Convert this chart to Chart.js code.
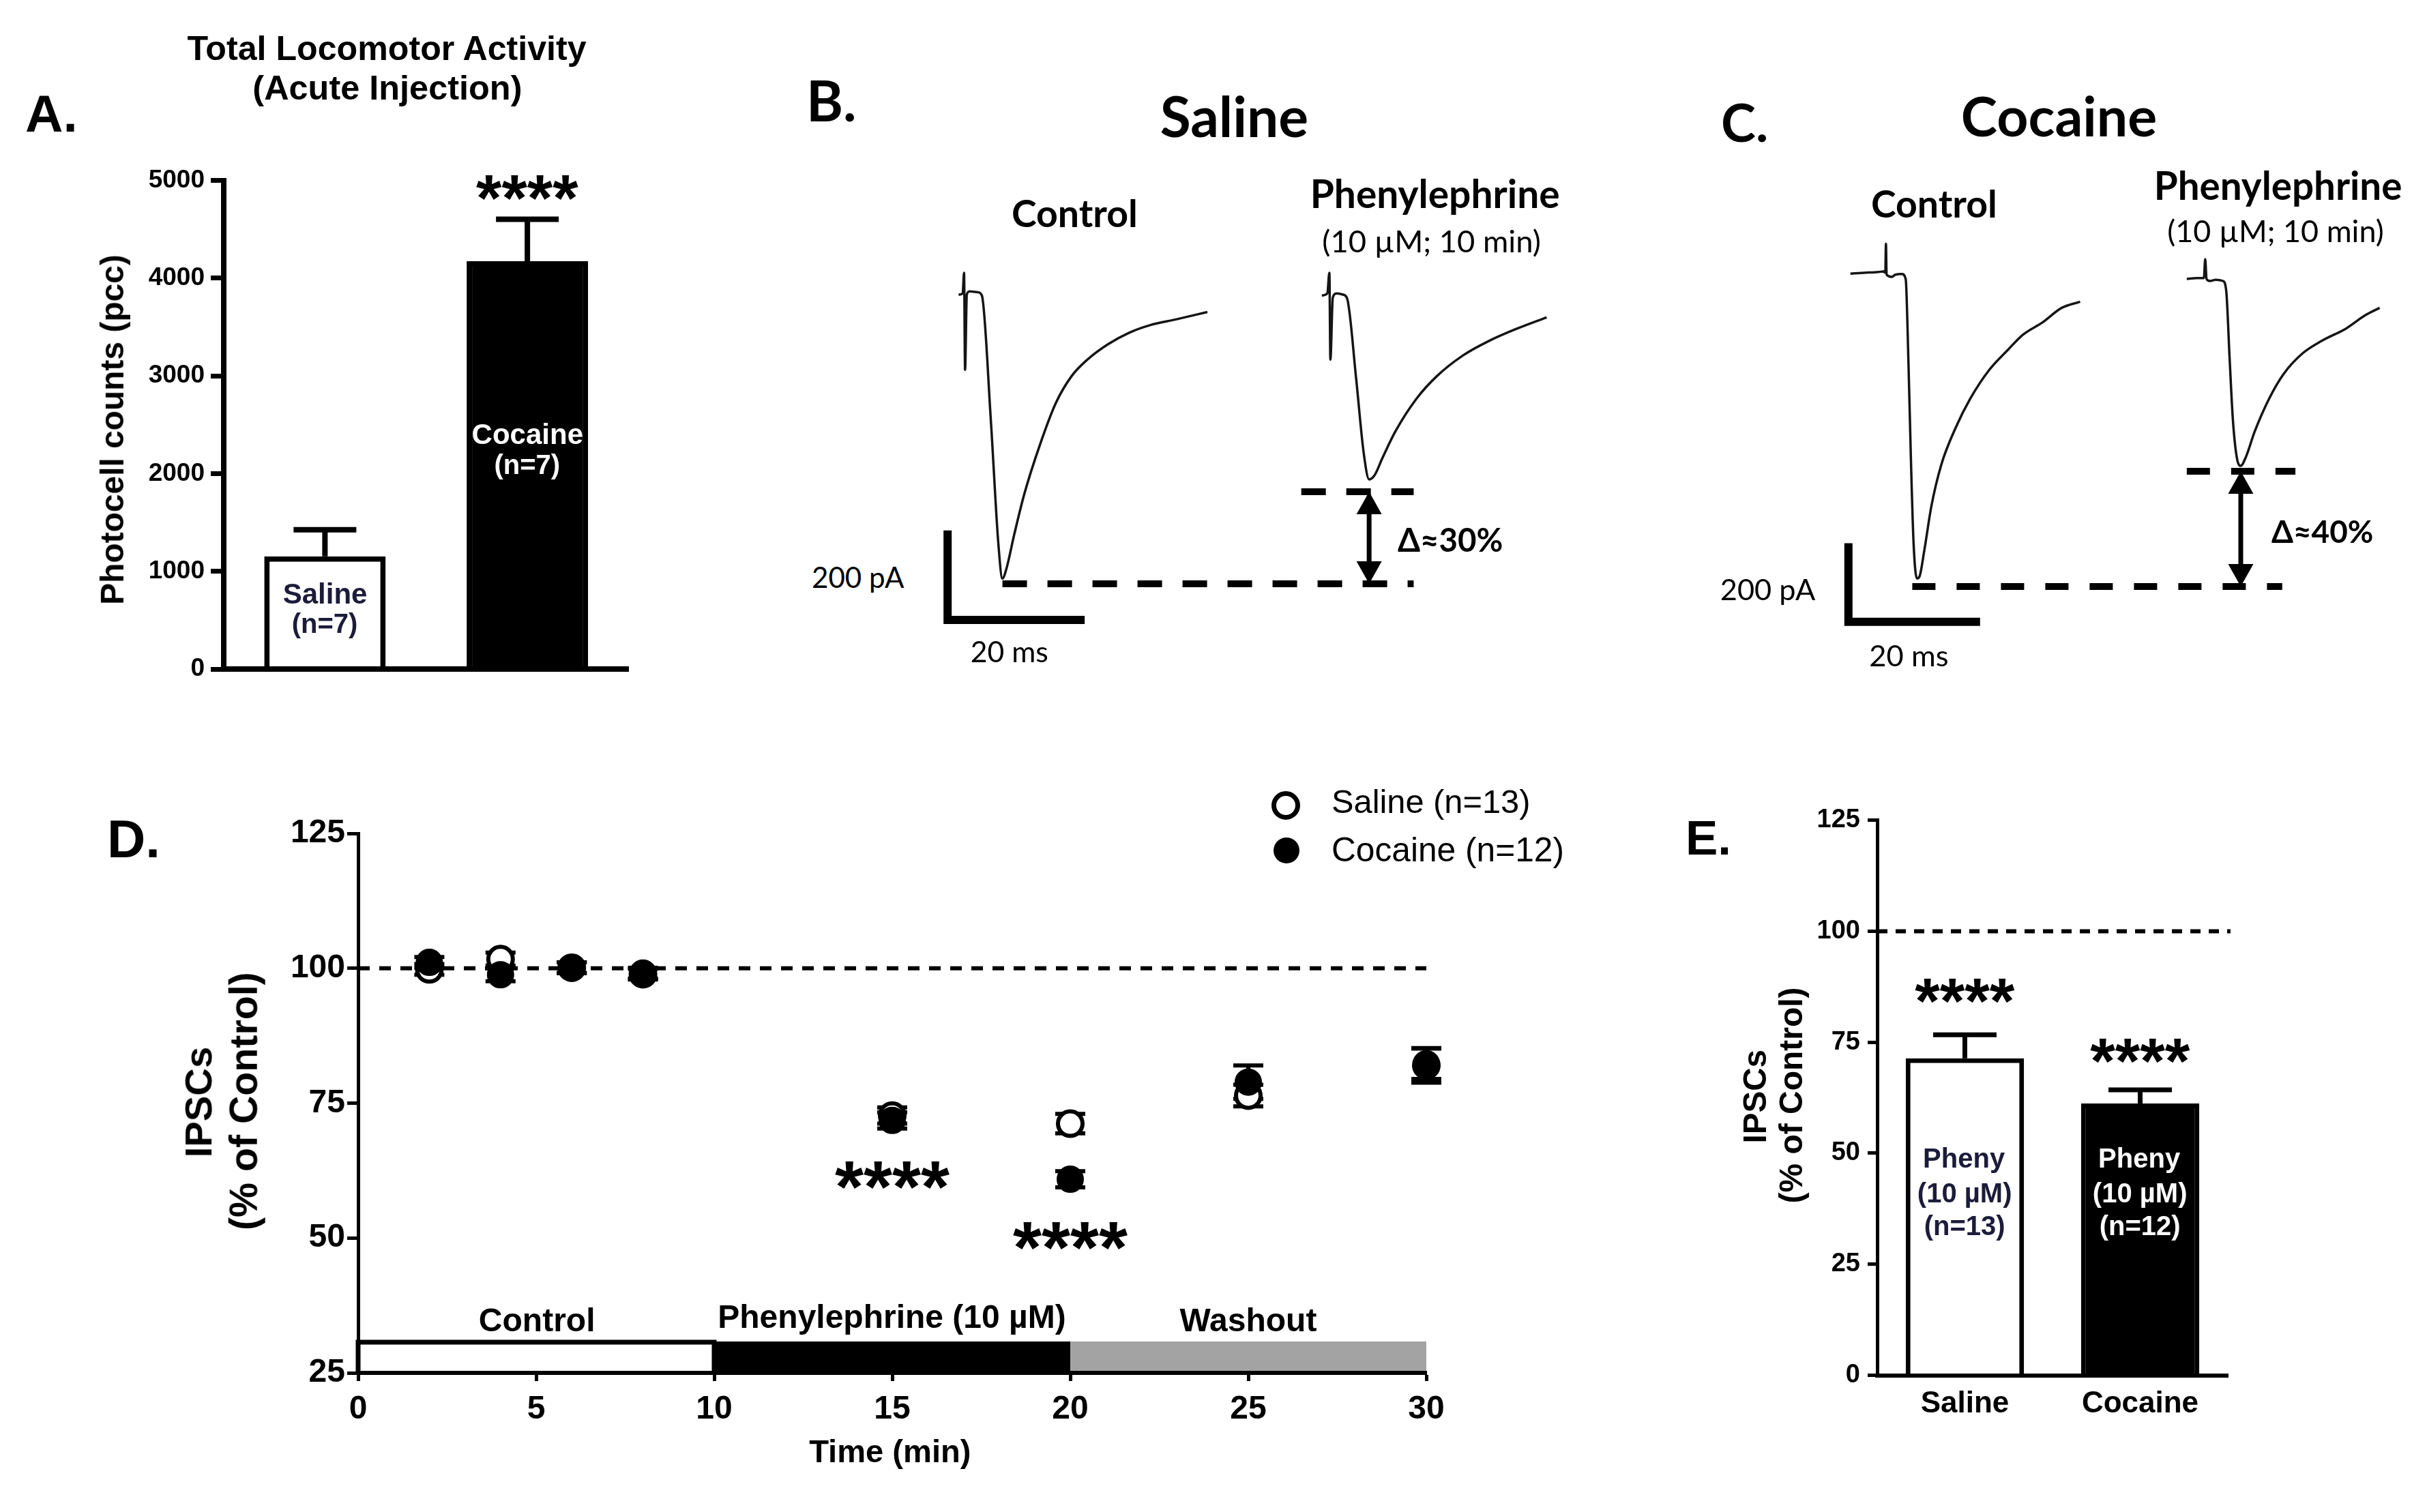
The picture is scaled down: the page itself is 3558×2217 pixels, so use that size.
<!DOCTYPE html>
<html><head><meta charset="utf-8">
<script src="https://cdn.jsdelivr.net/npm/chart.js@4.4.1/dist/chart.umd.min.js"></script>
<style>
html,body{margin:0;padding:0;background:#fff;}
#page{position:relative;width:3558px;height:2217px;overflow:hidden;background:#fff;}
.box{position:absolute;}
.t{position:absolute;white-space:nowrap;color:#000;margin:0;padding:0;}
</style></head><body><div id="page"></div>
<script>
// ================= DATA =================
// Panel A: total locomotor activity (photocell counts)
const locoGroups = ['Saline', 'Cocaine'];
const locoMean = [1154, 4173];
const locoSem = [271, 430];
const locoN = ['(n=7)', '(n=7)'];

// Panel B: representative IPSC traces, saline group (ms, pA)
const salineControlTrace = [[5.6,-2.6],[6.2,0.2],[6.4,46.2],[6.55,-170.6],[6.8,-2.6],[7.2,4.7],[8.4,2.9],[9.0,-4.5],[10.3,-281],[11.4,-558],[12.0,-636.5],[12.6,-613.5],[13.7,-539.7],[15.2,-447.4],[17.5,-336.7],[19.8,-244.4],[22.1,-184.4],[24.4,-147.6],[27.4,-113.3],[30.5,-87.6],[33.5,-70.9],[37.3,-58.0],[41.9,-41.4]];
const salinePhenyTrace = [[58.6,-4.5],[59.4,0.2],[59.7,46.2],[59.85,-147.6],[60.2,-9.1],[60.8,0.2],[61.7,-2.6],[62.3,-11.8],[63.6,-189.1],[64.7,-355.2],[65.5,-415.2],[66.3,-405.9],[67.4,-368.9],[69.3,-308.9],[72.4,-235.2],[75.4,-184.4],[79.2,-138.3],[83.0,-105.9],[86.8,-80.2],[91.4,-53.3]];
const salineScaleBar = [[4,-529],[4,-729],[24,-729]];          // 200 pA / 20 ms
const salineDashLevels = [-648.5, -442.7];                      // control peak, phenylephrine peak
const salineDashStart = [12.0, 55.6];
const salineDashEnd = [72.0, 72.0];
const salineArrowAt = 65.5;

// Panel C: representative IPSC traces, cocaine group (ms, pA)
const cocaineControlTrace = [[6.6,0.5],[8.7,2.6],[10.9,4.8],[11.6,5.9],[11.9,3.0],[12.0,76.2],[12.1,-2.6],[12.9,-7.8],[13.4,-2.6],[14.4,-0.5],[15.0,-13.1],[15.4,-212.6],[15.8,-475.2],[16.2,-685.2],[16.7,-774.3],[17.1,-769.1],[17.8,-706.0],[18.9,-590.7],[20.4,-485.7],[22.6,-391.0],[24.8,-317.6],[27.7,-244.1],[30.6,-192.0],[32.8,-155.0],[35.8,-123.3],[38.7,-86.6],[41.5,-70.9]];
const cocainePhenyTrace = [[57.7,-13.1],[59.2,-11.0],[60.3,-11.0],[60.5,37.2],[60.7,-13.0],[61.2,-18.3],[62.1,-15.2],[63.2,-18.3],[63.7,-44.7],[64.2,-212.6],[64.7,-370.2],[65.4,-475.2],[65.9,-487.8],[66.7,-464.7],[68.0,-401.6],[70.2,-317.6],[72.4,-254.7],[75.3,-202.1],[78.2,-170.5],[81.9,-139.1],[84.8,-105.5],[87.0,-86.6]];
const cocaineScaleBar = [[6.3,-684.5],[6.3,-884.5],[26.3,-884.5]];
const cocaineDashLevels = [-794.8, -501.7];
const cocaineDashStart = [16.0, 57.7];
const cocaineDashEnd = [72.2, 74.2];
const cocaineArrowAt = 65.9;

// Panel D: IPSC time course (% of control)
const timeMin = [2, 4, 6, 8, 15, 20, 25, 30];
const ipscSaline = [99.8, 101.7, 100.1, 98.9, 72.7, 71.2, 76.4, 82.0];
const ipscSalineSem = [1.0, 1.2, 1.0, 1.0, 1.5, 1.8, 2.0, 3.2];
const ipscCocaine = [101.1, 98.8, 100.1, 99.1, 71.8, 60.9, 78.9, 82.3];
const ipscCocaineSem = [1.0, 1.2, 1.0, 1.0, 1.5, 1.5, 3.1, 2.8];
const phaseNames = ['Control', 'Phenylephrine (10 µM)', 'Washout'];
const phaseStart = [0, 10, 20];
const phaseEnd = [10, 20, 30];
const starTimes = [15, 20];
const starLevels = [61.6, 50.3];
const controlLevel = 100;

// Panel E: phenylephrine effect (% of control)
const pheGroups = ['Saline', 'Cocaine'];
const pheMean = [71.4, 61.2];
const pheSem = [5.3, 3.1];
const pheN = ['(n=13)', '(n=12)'];

// ================= HELPERS =================
const ARIAL = "'Liberation Sans', Arial, Helvetica, sans-serif";
const CAL = "Lato, 'Liberation Sans', sans-serif";
const DARK = '#1c1c3a';
const page = document.getElementById('page');
const mctx = document.createElement('canvas').getContext('2d');
function fontAvailable(f){
  const s='abcdefghijklmnop WMi 0123';
  mctx.font='100px '+f+', monospace'; const a=mctx.measureText(s).width;
  mctx.font='100px monospace'; const b=mctx.measureText(s).width;
  return Math.abs(a-b)>1;
}
const HAS_NARROW = fontAvailable("'Liberation Sans Narrow'");
const NARROW = HAS_NARROW ? "'Liberation Sans Narrow', 'Liberation Sans', sans-serif" : ARIAL;

Chart.defaults.font.family = ARIAL;
Chart.defaults.color = '#000';
Chart.defaults.animation = false;
Chart.defaults.events = [];
Chart.defaults.plugins.legend.display = false;
Chart.defaults.plugins.tooltip.enabled = false;

function box(x,y,w,h){
  const d=document.createElement('div'); d.className='box';
  d.style.left=x+'px'; d.style.top=y+'px'; d.style.width=w+'px'; d.style.height=h+'px';
  const c=document.createElement('canvas'); d.appendChild(c); page.appendChild(d); return c;
}
function T(str,o){
  const fam=o.fam||ARIAL, wt=o.wt||'bold';
  let size=o.size||40;
  if(o.w){ mctx.font=`${wt} 100px ${fam}`; const m0=mctx.measureText(str);
    size=100*o.w/(m0.actualBoundingBoxLeft+m0.actualBoundingBoxRight); }
  mctx.font=`${wt} ${size}px ${fam}`;
  const m=mctx.measureText(str);
  const abl=m.actualBoundingBoxLeft, abr=m.actualBoundingBoxRight;
  const ia=m.actualBoundingBoxAscent, id=m.actualBoundingBoxDescent;
  const fa=m.fontBoundingBoxAscent, fd=m.fontBoundingBoxDescent;
  const baseInBox=(size-fa-fd)/2+fa;
  const inkMid=baseInBox-(ia-id)/2;
  const el=document.createElement('div'); el.className='t'; el.textContent=str;
  el.style.font=`${wt} ${size}px ${fam}`; el.style.lineHeight=size+'px'; el.style.color=o.color||'#000';
  if(!o.rot){
    const a=o.a||'c';
    const origin=a==='l'?o.x+abl:(a==='r'?o.x-abr:o.x-(abr-abl)/2);
    el.style.left=origin+'px'; el.style.top=(o.y-inkMid)+'px';
  } else {
    const w=m.width; const dx=(abr-abl)/2-w/2, dy=inkMid-size/2;
    const cx=o.x-dy, cy=o.y+dx;
    el.style.width=w+'px'; el.style.height=size+'px';
    el.style.left=(cx-w/2)+'px'; el.style.top=(cy-size/2)+'px';
    el.style.transform='rotate(-90deg)';
  }
  page.appendChild(el);
}
function dot(x,y,r,fill,bw){
  const d=document.createElement('div');
  d.style.cssText=`position:absolute;left:${x-r}px;top:${y-r}px;width:${2*r}px;height:${2*r}px;border-radius:50%;box-sizing:border-box;background:${fill};border:${bw}px solid #000;`;
  page.appendChild(d);
}
function makeTextMarks(items){
  return {id:'textMarks', afterDatasetsDraw(chart){
    const ctx=chart.ctx;
    items.forEach(it=>{
      const px=chart.scales.x.getPixelForValue(it.x), py=chart.scales.y.getPixelForValue(it.y);
      ctx.save(); ctx.font=it.font; ctx.fillStyle=it.color||'#000';
      ctx.textAlign='center'; ctx.textBaseline='alphabetic';
      const m=ctx.measureText(it.text);
      ctx.fillText(it.text, px - (m.actualBoundingBoxRight-m.actualBoundingBoxLeft)/2, py+(m.actualBoundingBoxAscent-m.actualBoundingBoxDescent)/2);
      ctx.restore();
    });
  }};
}
function makeErrorBars(sets, under){
  function draw(chart){
    const ctx=chart.ctx, ys=chart.scales.y;
    sets.forEach(s=>{
      const meta=chart.getDatasetMeta(s.ds), ds=chart.data.datasets[s.ds];
      meta.data.forEach((el,i)=>{
        const raw=ds.data[i]; const v=(typeof raw==='object')?raw.y:raw; const e=s.err[i];
        const x=el.x, yT=ys.getPixelForValue(v+e), yM=ys.getPixelForValue(v), yB=s.both?ys.getPixelForValue(v-e):yM;
        const hw=s.cap/2;
        ctx.save(); ctx.strokeStyle='#000'; ctx.lineWidth=s.lw; ctx.lineCap='butt';
        ctx.beginPath(); ctx.moveTo(x,yB); ctx.lineTo(x,yT);
        ctx.moveTo(x-hw,yT); ctx.lineTo(x+hw,yT);
        if(s.both){ ctx.moveTo(x-hw,yB); ctx.lineTo(x+hw,yB); }
        ctx.stroke(); ctx.restore();
      });
    });
  }
  return under?{id:'errBarsU', beforeDatasetsDraw:draw}:{id:'errBars', afterDatasetsDraw:draw};
}
function makeRefLine(v,dash,lw,extra){
  return {id:'refLine', beforeDatasetsDraw(chart){
    const ctx=chart.ctx, ca=chart.chartArea, y=chart.scales.y.getPixelForValue(v);
    ctx.save(); ctx.setLineDash(dash); ctx.lineWidth=lw; ctx.strokeStyle='#000';
    ctx.beginPath(); ctx.moveTo(ca.left,y); ctx.lineTo(ca.right+extra,y); ctx.stroke(); ctx.restore();
  }};
}
function makeArrows(list){
  return {id:'arrows', afterDatasetsDraw(chart){
    const ctx=chart.ctx, xs=chart.scales.x, ys=chart.scales.y;
    list.forEach(a=>{
      const x=xs.getPixelForValue(a.x), y1=ys.getPixelForValue(a.top), y2=ys.getPixelForValue(a.bottom);
      const hl=a.headLen, hw=a.headW/2;
      ctx.save(); ctx.fillStyle='#000'; ctx.strokeStyle='#000'; ctx.lineWidth=a.lw;
      ctx.beginPath(); ctx.moveTo(x,y1+hl*0.9); ctx.lineTo(x,y2-hl*0.9); ctx.stroke();
      ctx.beginPath(); ctx.moveTo(x,y1); ctx.lineTo(x-hw,y1+hl); ctx.lineTo(x+hw,y1+hl); ctx.closePath(); ctx.fill();
      ctx.beginPath(); ctx.moveTo(x,y2); ctx.lineTo(x-hw,y2-hl); ctx.lineTo(x+hw,y2-hl); ctx.closePath(); ctx.fill();
      ctx.restore();
    });
  }};
}
const xy = arr => arr.map(p=>({x:p[0], y:p[1]}));
const tick = (size, fam) => ({family: fam||ARIAL, size: size, weight:'bold'});
const plain = v => String(v);

// ================= PANEL A =================
new Chart(box(0,200,1000,880), {
  type:'bar',
  data:{labels:locoGroups, datasets:[{data:locoMean, backgroundColor:['#ffffff','#000000'], borderColor:'#000', borderWidth:8, barPercentage:0.6, categoryPercentage:1.0}]},
  options:{responsive:true, maintainAspectRatio:false, animation:false,
    layout:{autoPadding:false, padding:{top:64.5, right:78.5, bottom:0, left:0}},
    scales:{
      x:{ticks:{display:false}, grid:{display:true, drawOnChartArea:false, drawTicks:false}, border:{display:true, color:'#000', width:8, z:1}, afterFit(s){s.height=99;}},
      y:{min:0, max:5000, ticks:{stepSize:1000, color:'#000', padding:9, font:tick(37), callback:plain}, grid:{display:true, drawOnChartArea:false, drawTicks:true, tickLength:19, tickWidth:7, tickColor:'#000'}, border:{display:true, color:'#000', width:8, z:1}, afterFit(s){s.width=328;}}
    }},
  plugins:[makeErrorBars([{ds:0, err:locoSem, cap:92, lw:8, both:false}], false),
    makeTextMarks([
      {x:1, y:4930, text:'****', font:`bold 96px ${ARIAL}`},
      {x:0, y:780, text:locoGroups[0], font:`bold 42px ${ARIAL}`, color:DARK},
      {x:0, y:447, text:locoN[0], font:`bold 40px ${ARIAL}`, color:DARK},
      {x:1, y:2414, text:locoGroups[1], font:`bold 42px ${ARIAL}`, color:'#fff'},
      {x:1, y:2072, text:locoN[1], font:`bold 40px ${ARIAL}`, color:'#fff'}
    ])]
});

// ================= PANEL B & C (traces) =================
function traceChart(canvas, o){
  const ds=[
    {data:xy(o.control), borderColor:'#151515', borderWidth:3.5, pointRadius:0, cubicInterpolationMode:'monotone', clip:false},
    {data:xy(o.pheny), borderColor:'#151515', borderWidth:3.5, pointRadius:0, cubicInterpolationMode:'monotone', clip:false},
    {data:xy(o.bar), borderColor:'#000', borderWidth:12, pointRadius:0, tension:0, borderJoinStyle:'miter', borderCapStyle:'butt', clip:false}
  ];
  o.levels.forEach((lv,i)=>ds.push({data:[{x:o.dStart[i],y:lv},{x:o.dEnd[i],y:lv}], borderColor:'#000', borderWidth:10, borderDash:o.dash, borderCapStyle:'butt', pointRadius:0, clip:false}));
  return new Chart(canvas, {type:'line', data:{datasets:ds},
    options:{responsive:true, maintainAspectRatio:false, animation:false, layout:{autoPadding:false, padding:0},
      scales:{x:{type:'linear', display:false, min:o.xmin, max:o.xmax}, y:{type:'linear', display:false, min:o.ymin, max:o.ymax}}},
    plugins:[makeArrows([{x:o.arrowAt, top:o.levels[1], bottom:o.levels[0], headLen:33, headW:37, lw:7}])]
  });
}
// B: container 1349,370 960x630 ; 10.048 px/ms ; 0.6566 px/pA ; 0 pA at y=430.3
traceChart(box(1349,370,960,630), {control:salineControlTrace, pheny:salinePhenyTrace, bar:salineScaleBar,
  levels:salineDashLevels, dStart:salineDashStart, dEnd:salineDashEnd, arrowAt:salineArrowAt, dash:[36,30],
  xmin:0, xmax:960/10.048, ymin:(430.3-1000)/0.6566, ymax:(430.3-370)/0.6566});
// C: container 2649,340 905x660 ; 9.6506 px/ms ; 0.577 px/pA ; 0 pA at y=401.44
traceChart(box(2649,340,905,660), {control:cocaineControlTrace, pheny:cocainePhenyTrace, bar:cocaineScaleBar,
  levels:cocaineDashLevels, dStart:cocaineDashStart, dEnd:cocaineDashEnd, arrowAt:cocaineArrowAt, dash:[34,31],
  xmin:0, xmax:905/9.6506, ymin:(401.44-1000)/0.577, ymax:(401.44-340)/0.577});

// ================= PANEL D =================
const bandTop = 30.7, bandBase = 25;
new Chart(box(200,1160,2000,1057), {
  type:'line',
  data:{datasets:[
    {label:'Saline (n=13)', data:timeMin.map((t,i)=>({x:t,y:ipscSaline[i]})), showLine:false, pointStyle:'circle', pointRadius:18, pointBorderWidth:6, pointBackgroundColor:'#fff', pointBorderColor:'#000', order:1, clip:false},
    {label:'Cocaine (n=12)', data:timeMin.map((t,i)=>({x:t,y:ipscCocaine[i]})), showLine:false, pointStyle:'circle', pointRadius:19, pointBorderWidth:2, pointBackgroundColor:'#000', pointBorderColor:'#000', order:0, clip:false},
    {data:[{x:phaseStart[0],y:controlLevel},{x:phaseEnd[2],y:controlLevel}], borderColor:'#000', borderWidth:6, borderDash:[17,14], pointRadius:0, order:3, clip:false},
    {data:[{x:phaseStart[1],y:bandTop},{x:phaseEnd[1],y:bandTop}], borderColor:'#000', borderWidth:2, backgroundColor:'#000', fill:{value:bandBase}, pointRadius:0, order:4},
    {data:[{x:phaseStart[2],y:bandTop},{x:phaseEnd[2],y:bandTop}], borderColor:'#a3a3a3', borderWidth:2, backgroundColor:'#a3a3a3', fill:{value:bandBase}, pointRadius:0, order:5},
    {data:[{x:phaseStart[0],y:bandBase},{x:phaseStart[0],y:bandTop},{x:phaseEnd[0],y:bandTop},{x:phaseEnd[0],y:bandBase}], borderColor:'#000', borderWidth:7, borderJoinStyle:'miter', fill:false, pointRadius:0, order:6, clip:false}
  ]},
  options:{responsive:true, maintainAspectRatio:false, animation:false,
    layout:{autoPadding:false, padding:{top:62, right:109, bottom:0, left:0}},
    scales:{
      x:{type:'linear', min:0, max:30, ticks:{stepSize:5, autoSkip:false, color:'#000', padding:13, font:tick(48), callback:plain}, grid:{display:true, drawOnChartArea:false, drawTicks:true, tickLength:12, tickWidth:5, tickColor:'#000'}, border:{display:true, color:'#000', width:6, z:1}, afterFit(s){s.height=204;}},
      y:{type:'linear', min:25, max:125, ticks:{stepSize:25, color:'#000', padding:3, font:tick(48), callback:plain}, grid:{display:true, drawOnChartArea:false, drawTicks:true, tickLength:16, tickWidth:5, tickColor:'#000'}, border:{display:true, color:'#000', width:5, z:1}, afterFit(s){s.width=325;}}
    }},
  plugins:[makeErrorBars([{ds:0, err:ipscSalineSem, cap:44, lw:6, both:true},{ds:1, err:ipscCocaineSem, cap:44, lw:6, both:true}], true),
    makeTextMarks([
      ...phaseNames.map((n,i)=>({x:(phaseStart[i]+phaseEnd[i])/2, y:34.9, text:n, font:`bold 48px ${ARIAL}`})),
      ...starTimes.map((t,i)=>({x:t, y:starLevels[i], text:'****', font:`bold 108px ${ARIAL}`}))
    ])]
});

// ================= PANEL E =================
new Chart(box(2460,1150,1098,1067), {
  type:'bar',
  data:{labels:pheGroups, datasets:[{data:pheMean, backgroundColor:['#ffffff','#000000'], borderColor:'#000', borderWidth:7, barPercentage:0.675, categoryPercentage:1.0}]},
  options:{responsive:true, maintainAspectRatio:false, animation:false,
    layout:{autoPadding:false, padding:{top:52.7, right:292, bottom:0, left:0}},
    scales:{
      x:{ticks:{color:'#000', padding:16, font:tick(44)}, grid:{display:true, drawOnChartArea:false, drawTicks:false}, border:{display:true, color:'#000', width:6, z:1}, afterFit(s){s.height=200.5;}},
      y:{min:0, max:125, ticks:{stepSize:25, color:'#000', padding:11, font: HAS_NARROW ? tick(44, NARROW) : tick(38), callback:plain}, grid:{display:true, drawOnChartArea:false, drawTicks:true, tickLength:14, tickWidth:5, tickColor:'#000'}, border:{display:true, color:'#000', width:5, z:1}, afterFit(s){s.width=292;}}
    }},
  plugins:[makeRefLine(controlLevel,[15,12],6,4),
    makeErrorBars([{ds:0, err:pheSem, cap:93, lw:7, both:false}], false),
    makeTextMarks([
      {x:0, y:86.6, text:'****', font:`bold 94px ${ARIAL}`},
      {x:1, y:73.0, text:'****', font:`bold 94px ${ARIAL}`},
      {x:0, y:48.4, text:'Pheny', font:`bold 40px ${ARIAL}`, color:DARK},
      {x:0, y:40.6, text:'(10 µM)', font:`bold 40px ${ARIAL}`, color:DARK},
      {x:0, y:33.3, text:pheN[0], font:`bold 40px ${ARIAL}`, color:DARK},
      {x:1, y:48.4, text:'Pheny', font:`bold 40px ${ARIAL}`, color:'#fff'},
      {x:1, y:40.6, text:'(10 µM)', font:`bold 40px ${ARIAL}`, color:'#fff'},
      {x:1, y:33.3, text:pheN[1], font:`bold 40px ${ARIAL}`, color:'#fff'}
    ])]
});

// ================= TEXT (titles, letters, legend) =================
T('A.', {x:38, y:167, a:'l', w:70});
T('Total Locomotor Activity', {x:568, y:75, w:587});
T('(Acute Injection)', {x:568, y:134, w:391});
T('Photocell counts (pcc)', {x:169, y:629, rot:1, w:509});

T('B.', {x:1188, y:149, a:'l', fam:CAL, w:64});
T('Saline', {x:1809, y:171, fam:CAL, w:214});
T('Control', {x:1575, y:313, fam:CAL, w:180});
T('Phenylephrine', {x:2105, y:289, fam:CAL, w:360});
T('(10 µM; 10 min)', {x:2099, y:357, fam:CAL, wt:'normal', w:317});
T('200 pA', {x:1326, y:851, a:'r', fam:CAL, wt:'normal', w:134});
T('20 ms', {x:1480, y:956, fam:CAL, wt:'normal', w:111});
T('Δ≈30%', {x:2049, y:792, a:'l', fam:CAL, w:153});

T('C.', {x:2525, y:180, a:'l', fam:CAL, w:64});
T('Cocaine', {x:3019, y:171, fam:CAL, w:283});
T('Control', {x:2835, y:299, fam:CAL, w:180});
T('Phenylephrine', {x:3341, y:277, fam:CAL, w:358});
T('(10 µM; 10 min)', {x:3336, y:342, fam:CAL, wt:'normal', w:314});
T('200 pA', {x:2662, y:869, a:'r', fam:CAL, wt:'normal', w:138});
T('20 ms', {x:2799, y:962, fam:CAL, wt:'normal', w:113});
T('Δ≈40%', {x:3330, y:780, a:'l', fam:CAL, w:148});

T('D.', {x:162, y:1231, a:'l', w:68});
T('IPSCs', {x:292, y:1616, rot:1, w:157});
T('(% of Control)', {x:362, y:1615, rot:1, w:374});
T('Time (min)', {x:1304, y:2132, w:235});
dot(1885,1181,21,'#fff',7);
dot(1886,1247,19,'#000',0);
T('Saline (n=13)', {x:1954, y:1180, a:'l', fam:NARROW, wt:'normal', w:287});
T('Cocaine (n=12)', {x:1954, y:1251, a:'l', fam:NARROW, wt:'normal', w:336});

T('E.', {x:2475, y:1228, a:'l', w:58});
T('IPSCs', {x:2572, y:1607, rot:1, w:133});
T('(% of Control)', {x:2630, y:1606, rot:1, w:313});
</script>
</body></html>
